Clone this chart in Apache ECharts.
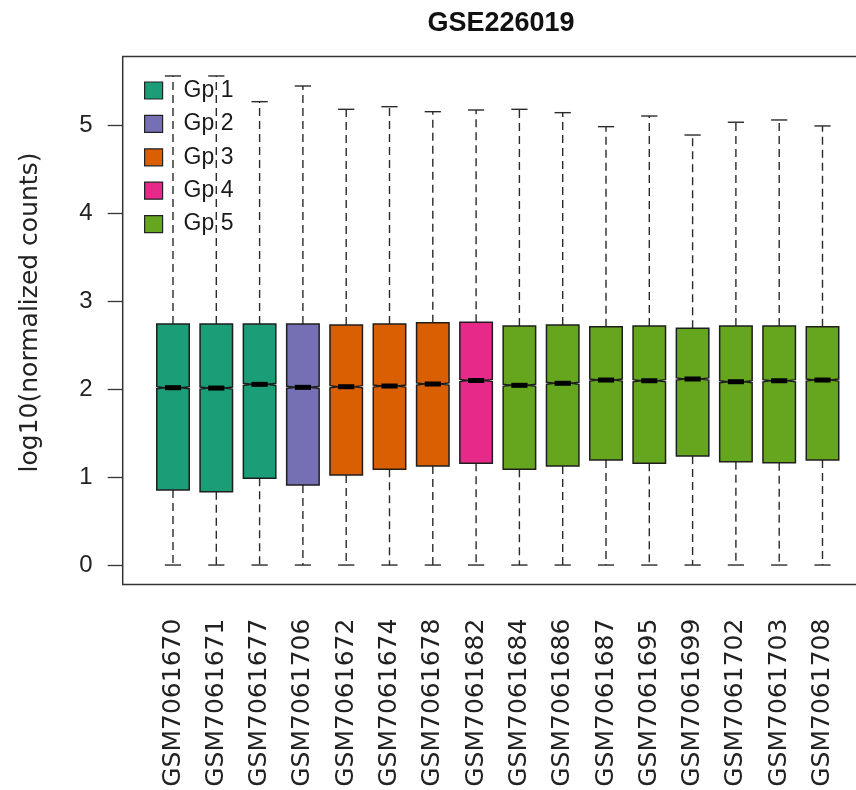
<!DOCTYPE html>
<html>
<head>
<meta charset="utf-8">
<script src="https://cdn.jsdelivr.net/npm/echarts@6/dist/echarts.min.js"></script>
<style>
  html, body { margin: 0; padding: 0; background: #ffffff; }
  #chart { width: 856px; height: 790px; }
</style>
</head>
<body>
<div id="chart"></div>
<script>
// Samples in plotting order and the group each one belongs to
const samples = [
  'GSM7061670', 'GSM7061671', 'GSM7061677', 'GSM7061706',
  'GSM7061672', 'GSM7061674', 'GSM7061678', 'GSM7061682',
  'GSM7061684', 'GSM7061686', 'GSM7061687', 'GSM7061695',
  'GSM7061699', 'GSM7061702', 'GSM7061703', 'GSM7061708'
];
const sampleGroup = [
  'Gp 1', 'Gp 1', 'Gp 1', 'Gp 2',
  'Gp 3', 'Gp 3', 'Gp 3', 'Gp 4',
  'Gp 5', 'Gp 5', 'Gp 5', 'Gp 5',
  'Gp 5', 'Gp 5', 'Gp 5', 'Gp 5'
];
const groups = ['Gp 1', 'Gp 2', 'Gp 3', 'Gp 4', 'Gp 5'];
const groupColors = ['#1B9E77', '#7570B3', '#D95F02', '#E7298A', '#66A61E'];

// Five-number summaries of log10(normalized counts) per sample
const whiskerLow    = [0, 0, 0, 0, 0, 0, 0, 0, 0, 0, 0, 0, 0, 0, 0, 0];
const lowerQuartile = [0.852, 0.833, 0.985, 0.909, 1.023, 1.088, 1.125, 1.156,
                       1.088, 1.125, 1.193, 1.156, 1.239, 1.174, 1.163, 1.193];
const medians       = [2.015, 2.011, 2.053, 2.019, 2.026, 2.034, 2.057, 2.097,
                       2.042, 2.065, 2.102, 2.094, 2.114, 2.083, 2.094, 2.102];
const upperQuartile = [2.739, 2.739, 2.739, 2.739, 2.727, 2.739, 2.753, 2.758,
                       2.716, 2.727, 2.708, 2.716, 2.690, 2.716, 2.716, 2.708];
const whiskerHigh   = [5.557, 5.557, 5.265, 5.443, 5.178, 5.208, 5.151, 5.170,
                       5.178, 5.140, 4.981, 5.102, 4.886, 5.031, 5.057, 4.989];

const yTicks = [0, 1, 2, 3, 4, 5];

// Value range padded by 4% on each side
const dataLo = Math.min(...whiskerLow);
const dataHi = Math.max(...whiskerHigh);
const Y_MIN = dataLo - 0.04 * (dataHi - dataLo);
const Y_MAX = dataHi + 0.04 * (dataHi - dataLo);

// Box geometry (fraction of a category band) and notch half-height
const BOX_WEX = 0.75;
const NOTCH = 0.012;

const PLOT_TOP = 56.4;
const PLOT_HEIGHT = 528.2;

function renderBox(params, api) {
  const i = api.value(0);
  const lo = api.value(1), q1 = api.value(2), med = api.value(3),
        q3 = api.value(4), hi = api.value(5);
  const band = api.size([1, 0])[0];
  const half = band * BOX_WEX / 2;
  const cx = api.coord([i, med])[0];
  const y = v => api.coord([i, v])[1];
  const yLo = y(lo), yQ1 = y(q1), yMed = y(med), yQ3 = y(q3), yHi = y(hi);
  const nTop = y(med + NOTCH), nBot = y(med - NOTCH);
  const whisker = { stroke: '#2a2a2a', lineWidth: 1.4, lineDash: [8, 5], fill: null };
  const cap = { stroke: '#2a2a2a', lineWidth: 1.4, fill: null };
  return {
    type: 'group',
    children: [
      { type: 'line', shape: { x1: cx, y1: yQ3, x2: cx, y2: yHi }, style: whisker },
      { type: 'line', shape: { x1: cx, y1: yQ1, x2: cx, y2: yLo }, style: whisker },
      { type: 'line', shape: { x1: cx - half / 2, y1: yHi, x2: cx + half / 2, y2: yHi }, style: cap },
      { type: 'line', shape: { x1: cx - half / 2, y1: yLo, x2: cx + half / 2, y2: yLo }, style: cap },
      {
        type: 'polygon',
        shape: {
          points: [
            [cx - half, yQ1], [cx - half, nBot], [cx - half / 2, yMed], [cx - half, nTop],
            [cx - half, yQ3], [cx + half, yQ3], [cx + half, nTop], [cx + half / 2, yMed],
            [cx + half, nBot], [cx + half, yQ1]
          ]
        },
        style: { fill: api.visual('color'), stroke: '#1e1e1e', lineWidth: 1.5 }
      },
      { type: 'line', shape: { x1: cx - half / 2, y1: yMed, x2: cx + half / 2, y2: yMed },
        style: { stroke: '#000000', lineWidth: 5 } }
    ]
  };
}

const series = groups.map((g, gi) => ({
  name: g,
  type: 'custom',
  xAxisIndex: 0,
  yAxisIndex: 0,
  itemStyle: { color: groupColors[gi] },
  renderItem: renderBox,
  encode: { x: 0, y: [1, 2, 3, 4, 5] },
  data: samples
    .map((s, i) => ({ i, g: sampleGroup[i] }))
    .filter(d => d.g === g)
    .map(d => [d.i, whiskerLow[d.i], lowerQuartile[d.i], medians[d.i], upperQuartile[d.i], whiskerHigh[d.i]])
}));

const chart = echarts.init(document.getElementById('chart'), null, { renderer: 'canvas' });
chart.setOption({
  animation: false,
  backgroundColor: '#ffffff',
  title: {
    text: 'GSE226019',
    left: 501,
    top: 10,
    padding: 0,
    textAlign: 'center',
    textStyle: { fontFamily: 'Liberation Sans', fontWeight: 'bold', fontSize: 27, color: '#111111' }
  },
  legend: {
    orient: 'vertical',
    left: 144,
    top: 79,
    padding: 0,
    icon: 'rect',
    itemWidth: 18,
    itemHeight: 17,
    itemGap: 10.4,
    selectedMode: false,
    data: groups.map((g, gi) => ({
      name: g,
      itemStyle: { color: groupColors[gi], borderColor: '#222222', borderWidth: 1.2 }
    })),
    textStyle: { fontFamily: 'Liberation Sans', fontSize: 23, lineHeight: 23, color: '#1a1a1a', padding: [0, 0, 0, 16] }
  },
  grid: [
    { left: 151.35, top: PLOT_TOP, width: 692.8, height: PLOT_HEIGHT, show: false, outerBoundsMode: 'none' },
    { left: 122.7, top: PLOT_TOP, width: 749.3, height: PLOT_HEIGHT, show: true, outerBoundsMode: 'none',
      borderColor: '#333333', borderWidth: 1.5, backgroundColor: 'transparent' }
  ],
  xAxis: [
    {
      type: 'category',
      gridIndex: 0,
      data: samples,
      axisLine: { show: false },
      axisTick: { alignWithLabel: true, length: 15, lineStyle: { color: '#333333', width: 1.3 } },
      axisLabel: { rotate: 90, interval: 0, margin: 34, fontFamily: 'DejaVu Sans', fontSize: 25, color: '#222222' },
      splitLine: { show: false }
    },
    { type: 'value', gridIndex: 1, min: 0, max: 1, show: false }
  ],
  yAxis: [
    { type: 'value', gridIndex: 0, min: Y_MIN, max: Y_MAX, show: false },
    {
      type: 'value',
      gridIndex: 1,
      min: Y_MIN,
      max: Y_MAX,
      axisLine: { show: false },
      axisTick: { show: true, customValues: yTicks, length: 15, lineStyle: { color: '#333333', width: 1.3 } },
      axisLabel: { customValues: yTicks, margin: 30, fontFamily: 'Liberation Sans', fontSize: 24, color: '#222222' },
      splitLine: { show: false },
      name: 'log10(normalized counts)',
      nameLocation: 'middle',
      nameGap: 80,
      nameTextStyle: { fontFamily: 'DejaVu Sans', fontSize: 25, color: '#222222', padding: [0, 0, 0, 16] }
    }
  ],
  series: series
});
</script>
</body>
</html>
